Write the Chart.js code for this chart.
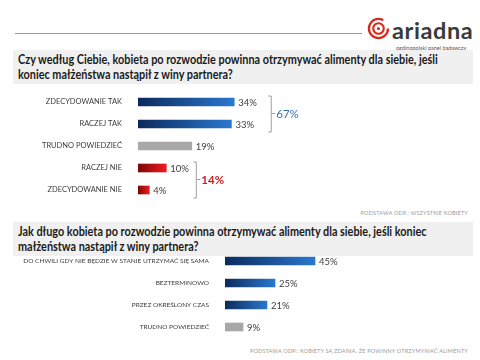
<!DOCTYPE html>
<html>
<head>
<meta charset="utf-8">
<script src="https://cdn.jsdelivr.net/npm/chart.js@4"></script>
<style>
  html, body { margin: 0; padding: 0; background: #fff; }
  #page { position: relative; width: 480px; height: 360px; overflow: hidden; font-family: Lato, "Open Sans", sans-serif; }
  .rule { position: absolute; left: 15px; top: 33px; width: 347px; height: 1px; background: #9a9a9a; }
  .logo { position: absolute; left: 367px; top: 17px; }
  .brand { position: absolute; left: 392px; top: 16px; font: bold 23.5px Lato, sans-serif; color: #3a3a3a; letter-spacing: 0.6px; }
  .tag { position: absolute; left: 396px; top: 45px; font-size: 5.5px; color: #555; white-space: nowrap; }
  .title { position: absolute; left: 13px; width: 450px; height: 31px; padding: 2px 5px 1px; background: #f0f0f0; color: #1b1b1b; white-space: nowrap; }
  .title span { display: inline-block; transform: scaleX(0.87); transform-origin: 0 0; font-weight: bold; font-size: 12.5px; line-height: 15px; }
  .note { position: absolute; right: 12px; font-size: 5.5px; color: #9a9a9a; letter-spacing: 0.2px; }
  canvas { position: absolute; left: 0; }
</style>
</head>
<body>
<div id="page">
  <div class="rule"></div>
  <svg class="logo" width="23" height="23" viewBox="0 0 24 24">
    <circle cx="12" cy="12" r="10" fill="none" stroke="#d52b1e" stroke-width="2.4" stroke-dasharray="52 11"/>
    <circle cx="12" cy="12" r="5.5" fill="none" stroke="#d52b1e" stroke-width="2.2"/>
    <circle cx="12" cy="12" r="1.6" fill="#d52b1e"/>
  </svg>
  <div class="brand">ariadna</div>
  <div class="tag">ogólnopolski panel badawczy</div>

  <div class="title" style="top:50px"><span>Czy według Ciebie, kobieta po rozwodzie powinna otrzymywać alimenty dla siebie, jeśli<br>koniec małżeństwa nastąpił z winy partnera?</span></div>
  <canvas id="chart1" width="421" height="110" style="top:91px;width:421px;height:110px"></canvas>
  <div class="note" style="top:210px">PODSTAWA ODP.: WSZYSTKIE KOBIETY</div>

  <div class="title" style="top:222px"><span>Jak długo kobieta po rozwodzie powinna otrzymywać alimenty dla siebie, jeśli koniec<br>małżeństwa nastąpił z winy partnera?</span></div>
  <canvas id="chart2" width="425" height="88" style="top:250px;width:425px;height:88px"></canvas>
  <div class="note" style="top:348px">PODSTAWA ODP.: KOBIETY SĄ ZDANIA, ŻE POWINNY OTRZYMYWAĆ ALIMENTY</div>
</div>

<script>
// question 1
const q1Labels = ['ZDECYDOWANIE TAK', 'RACZEJ TAK', 'TRUDNO POWIEDZIEĆ', 'RACZEJ NIE', 'ZDECYDOWANIE NIE'];
const q1Values = [34, 33, 19, 10, 4];
const q1Tones = ['blue', 'blue', 'gray', 'red', 'red'];
const q1Groups = [
    { from: 0, to: 1, total: 67, tone: 'blue' },
    { from: 3, to: 4, total: 14, tone: 'red' }
];

// question 2
const q2Labels = ['DO CHWILI GDY NIE BĘDZIE W STANIE UTRZYMAĆ SIĘ SAMA', 'BEZTERMINOWO', 'PRZEZ OKREŚLONY CZAS', 'TRUDNO POWIEDZIEĆ'];
const q2Values = [45, 25, 21, 9];
const q2Tones = ['blue', 'blue', 'blue', 'gray'];

const ramps = {
    blue: ['#0c2a5c', '#2a78cf'],
    red: ['#7a0608', '#f01c1c'],
    gray: ['#a8a8a8', '#a8a8a8']
};
const groupText = { blue: '#2f74b5', red: '#c81e1e' };
const groupWeight = { blue: 'normal', red: 'bold' };

const barFill = (tones) => (ctx) => {
    const chart = ctx.chart;
    const tone = ramps[tones[ctx.dataIndex]];
    if (!chart.chartArea) return tone[1];
    const x = chart.scales.x;
    const x0 = x.getPixelForValue(0);
    const x1 = x.getPixelForValue(ctx.raw);
    const g = chart.ctx.createLinearGradient(x0, 0, x1, 0);
    g.addColorStop(0, tone[0]);
    g.addColorStop(1, tone[1]);
    return g;
};

// percentage next to each bar
const valueLabels = {
    id: 'valueLabels',
    afterDatasetsDraw(chart, args, opts) {
        const { ctx } = chart;
        const meta = chart.getDatasetMeta(0);
        ctx.save();
        ctx.font = `${opts.size}px Lato, sans-serif`;
        ctx.fillStyle = '#404040';
        ctx.textBaseline = 'middle';
        meta.data.forEach((bar, i) => {
            ctx.fillText(chart.data.datasets[0].data[i] + '%', bar.x + 4, bar.y + 1);
        });
        ctx.restore();
    }
};

// square brackets with group totals
const brackets = {
    id: 'brackets',
    afterDatasetsDraw(chart, args, opts) {
        if (!opts.groups) return;
        const { ctx } = chart;
        const x = chart.scales.x, y = chart.scales.y;
        const data = chart.data.datasets[0].data;
        ctx.save();
        opts.groups.forEach((g, k) => {
            const top = y.getPixelForValue(g.from) - 6.5;
            const bottom = y.getPixelForValue(g.to) + 7.5;
            const maxVal = Math.max(...data.slice(g.from, g.to + 1));
            const bx = x.getPixelForValue(maxVal) + opts.offsets[k];
            const mid = (top + bottom) / 2;
            ctx.strokeStyle = '#a0a0a0';
            ctx.lineWidth = 1;
            ctx.beginPath();
            ctx.moveTo(bx - 3, top + 0.5);
            ctx.lineTo(bx, top + 0.5);
            ctx.lineTo(bx, bottom + 0.5);
            ctx.lineTo(bx - 3, bottom + 0.5);
            ctx.moveTo(bx, mid);
            ctx.lineTo(bx + 4, mid);
            ctx.stroke();
            ctx.font = `${groupWeight[g.tone]} 11.5px Lato, sans-serif`;
            ctx.fillStyle = groupText[g.tone];
            ctx.textBaseline = 'middle';
            ctx.fillText(g.total + '%', bx + 5, mid + 1);
        });
        ctx.restore();
    }
};

const makeChart = (id, labels, values, tones, axisWidth, tickSize, valueSize, groups, offsets) => {
    return new Chart(document.getElementById(id).getContext('2d'), {
        type: 'bar',
        data: {
            labels,
            datasets: [{
                data: values,
                backgroundColor: barFill(tones),
                barThickness: 8
            }]
        },
        options: {
            indexAxis: 'y',
            responsive: false,
            animation: false,
            layout: { padding: 0 },
            plugins: {
                legend: { display: false },
                tooltip: { enabled: false },
                valueLabels: { size: valueSize },
                brackets: { groups, offsets }
            },
            scales: {
                x: {
                    display: false,
                    min: 0,
                    max: 100
                },
                y: {
                    grid: { display: false },
                    border: { display: false },
                    afterFit: (s) => {
                        s.width = axisWidth;
                        s.paddingTop = 0;
                        s.paddingBottom = 0;
                    },
                    ticks: {
                        padding: 8,
                        color: '#3c3c3c',
                        font: { family: 'Lato, sans-serif', size: tickSize }
                    }
                }
            }
        },
        plugins: [valueLabels, brackets]
    });
};

makeChart('chart1', q1Labels, q1Values, q1Tones, 138, 7.5, 9.5, q1Groups, [37, 30]);
makeChart('chart2', q2Labels, q2Values, q2Tones, 225, 6.5, 9.5, null, null);
</script>
</body>
</html>
